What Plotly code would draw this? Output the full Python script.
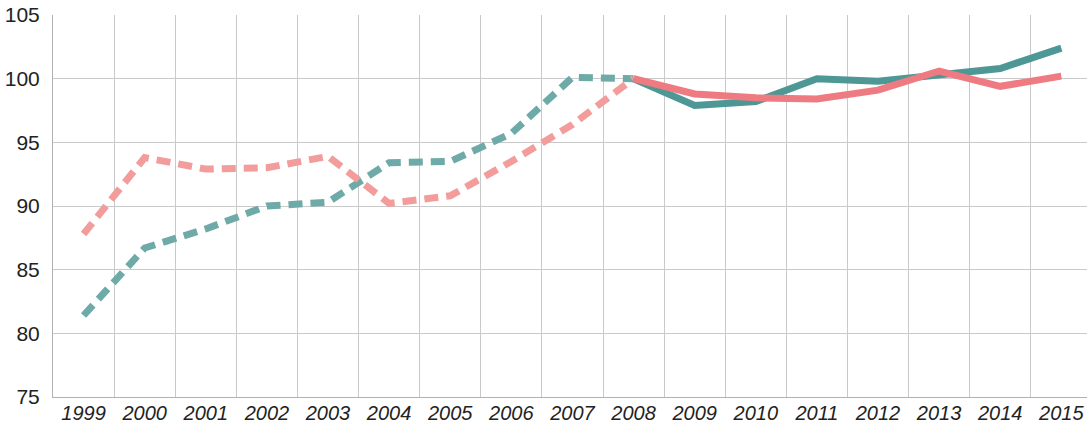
import plotly.graph_objects as go

years = [str(y) for y in range(1999, 2016)]
teal_values = [81.4, 86.7, 88.2, 90.0, 90.3, 93.4, 93.5, 95.7, 100.1, 100.0,
               97.9, 98.2, 100.0, 99.8, 100.3, 100.8, 102.4]
pink_values = [87.8, 93.8, 92.9, 93.0, 93.9, 90.2, 90.8, 93.5, 96.4, 100.0,
               98.8, 98.5, 98.4, 99.1, 100.6, 99.4, 100.2]
y_ticks = [75, 80, 85, 90, 95, 100, 105]

split = years.index("2008")

TEAL = "#4d9794"
PINK = "#ef7b82"
TEAL_D = "#6eaaa7"
PINK_D = "#f29c9c"

NARROW = "Liberation Sans Narrow, Liberation Sans, Arial, sans-serif"

fig = go.Figure()
fig.add_trace(go.Scatter(x=years[:split + 1], y=teal_values[:split + 1], mode="lines",
                         line=dict(color=TEAL_D, width=7, dash="14px,8px"),
                         hoverinfo="skip", showlegend=False))
fig.add_trace(go.Scatter(x=years[:split + 1], y=pink_values[:split + 1], mode="lines",
                         line=dict(color=PINK_D, width=7, dash="14px,8px"),
                         hoverinfo="skip", showlegend=False))
fig.add_trace(go.Scatter(x=years[split:], y=teal_values[split:], mode="lines",
                         line=dict(color=TEAL, width=7),
                         hoverinfo="skip", showlegend=False))
fig.add_trace(go.Scatter(x=years[split:], y=pink_values[split:], mode="lines",
                         line=dict(color=PINK, width=7),
                         hoverinfo="skip", showlegend=False))

fig.update_layout(
    width=1087, height=424,
    margin=dict(l=53, r=0, t=15, b=27),
    paper_bgcolor="white", plot_bgcolor="white",
    font=dict(family=NARROW, color="#222222"),
    xaxis=dict(
        type="category",
        range=[-0.5, 16.42],
        tickson="boundaries",
        automargin=False,
        showgrid=True, gridcolor="#c9c9c9", gridwidth=1,
        showline=True, linecolor="#b0b0b0", linewidth=1,
        ticks="", ticklen=0,
        tickfont=dict(size=20, family=NARROW, style="italic", color="#222222"),
        ticklabelstandoff=-2,
        fixedrange=True,
    ),
    yaxis=dict(
        range=[75, 105],
        tickvals=y_ticks,
        ticktext=[str(v) for v in y_ticks],
        automargin=False,
        showgrid=True, gridcolor="#c9c9c9", gridwidth=1,
        showline=True, linecolor="#b0b0b0", linewidth=1,
        zeroline=False,
        ticks="", ticklen=0,
        tickfont=dict(size=21, family=NARROW, color="#222222"),
        ticklabelstandoff=8,
        fixedrange=True,
    ),
)

fig.write_html(
    "out.html",
    config={"displayModeBar": False},
    post_script="document.body.style.margin='0';document.body.style.overflow='hidden';",
)
